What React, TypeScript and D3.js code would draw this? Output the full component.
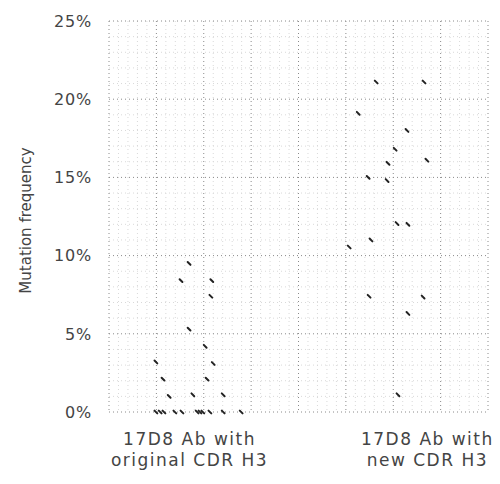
import * as d3 from "d3";
import React, { useEffect, useRef } from "react";

// 2つのグループの点（x は横方向のばらつき位置、y は変異頻度 %）
const categories = ["17D8 Ab with|original CDR H3", "17D8 Ab with|new CDR H3"];
const categoryPos = [1.7, 6.72];

const originalX = [1.69, 1.52, 2.17, 2.15, 1.69, 2.03, 0.99, 2.2, 1.14, 2.07, 1.27, 1.77, 2.41,
  0.99, 1.08, 1.16, 1.39, 1.54, 1.86, 1.92, 1.98, 2.13, 2.41, 2.79];
const originalFreq = [9.5, 8.4, 8.4, 7.4, 5.3, 4.2, 3.2, 3.1, 2.1, 2.1, 1.0, 1.1, 1.1,
  0, 0, 0, 0, 0, 0, 0, 0, 0, 0, 0];

const newX = [5.64, 6.65, 5.26, 6.29, 6.04, 6.71, 5.89, 5.47, 5.87, 6.08, 6.31, 5.53, 5.07, 5.49, 6.63, 6.31, 6.1];
const newFreq = [21.1, 21.1, 19.1, 18.0, 16.8, 16.1, 15.9, 15.0, 14.8, 12.05, 12.0, 11.0, 10.55, 7.4, 7.35, 6.3, 1.1];

const yTicks = [0, 5, 10, 15, 20, 25];
const yTitle = "Mutation frequency";

const W = 500;
const H = 484;
const FONT = "'DejaVu Sans', Verdana, sans-serif";

export default function App() {
  const svgRef = useRef<SVGSVGElement>(null);
  const done = useRef(false);

  useEffect(() => {
    if (done.current || !svgRef.current) return;
    done.current = true;
    const margin = { top: 21, right: 12, bottom: 72, left: 109 };
    const width = W - margin.left - margin.right;
    const height = H - margin.top - margin.bottom;

    const svg = d3.select(svgRef.current);
    const g = svg.append("g").attr("transform", `translate(${margin.left},${margin.top})`);

    const x = d3.scaleLinear().domain([0, 8]).range([0, width]);
    const y = d3.scaleLinear().domain([0, 25]).range([height, 0]);

    // 細かいグリッド（0.2 / 1%）
    const minorX = d3.range(0, 8.001, 0.2).filter((v) => Math.abs(v - Math.round(v)) > 0.01);
    const minorY = d3.range(0, 25.001, 1).filter((v) => v % 5 !== 0);
    g.append("g").selectAll("line").data(minorX).enter().append("line")
      .attr("x1", (d) => x(d)).attr("x2", (d) => x(d))
      .attr("y1", 0).attr("y2", height)
      .attr("stroke", "#d9d9d9").attr("stroke-dasharray", "1,3");
    g.append("g").selectAll("line").data(minorY).enter().append("line")
      .attr("y1", (d) => y(d)).attr("y2", (d) => y(d))
      .attr("x1", 0).attr("x2", width)
      .attr("stroke", "#d9d9d9").attr("stroke-dasharray", "1,3");

    // 主グリッド
    g.append("g").selectAll("line").data(d3.range(0, 9)).enter().append("line")
      .attr("x1", (d) => x(d)).attr("x2", (d) => x(d))
      .attr("y1", 0).attr("y2", height)
      .attr("stroke", "#8a8a8a").attr("stroke-dasharray", "1,3");
    g.append("g").selectAll("line").data(yTicks).enter().append("line")
      .attr("y1", (d) => y(d)).attr("y2", (d) => y(d))
      .attr("x1", 0).attr("x2", width)
      .attr("stroke", "#8a8a8a").attr("stroke-dasharray", "1,3");

    // y 軸ラベル
    g.append("g").selectAll("text").data(yTicks).enter().append("text")
      .attr("x", -17)
      .attr("y", (d) => y(d))
      .attr("dy", "0.36em")
      .attr("text-anchor", "end")
      .style("font-family", FONT)
      .style("font-size", "16px")
      .style("letter-spacing", "0.8px")
      .style("fill", "#444")
      .text((d) => `${d}%`);

    svg.append("text")
      .attr("transform", `translate(31,${margin.top + height / 2 + 4}) rotate(-90)`)
      .attr("text-anchor", "middle")
      .style("font-family", FONT)
      .style("font-size", "15px")
      .style("fill", "#444")
      .text(yTitle);

    // カテゴリラベル
    categories.forEach((c, i) => {
      const lines = c.split("|");
      const t = g.append("text")
        .attr("text-anchor", "middle")
        .style("font-family", FONT)
        .style("font-size", "17px")
        .style("letter-spacing", "1.5px")
        .style("fill", "#444");
      lines.forEach((l, j) => {
        t.append("tspan").attr("x", x(categoryPos[i])).attr("y", height + 33 + j * 21).text(l);
      });
    });

    // 点
    const pts = [
      ...originalX.map((v, i) => ({ x: v, y: originalFreq[i] })),
      ...newX.map((v, i) => ({ x: v, y: newFreq[i] })),
    ];
    g.append("g").selectAll("line").data(pts).enter().append("line")
      .attr("x1", (d) => x(d.x) - 1.4).attr("y1", (d) => y(d.y) - 1.4)
      .attr("x2", (d) => x(d.x) + 1.4).attr("y2", (d) => y(d.y) + 1.4)
      .attr("stroke", "#222").attr("stroke-width", 2).attr("stroke-linecap", "round");
  }, []);

  return (
    <svg
      ref={svgRef}
      width={W}
      height={H}
      style={{ position: "absolute", left: 0, top: 0, background: "#fff" }}
    />
  );
}
